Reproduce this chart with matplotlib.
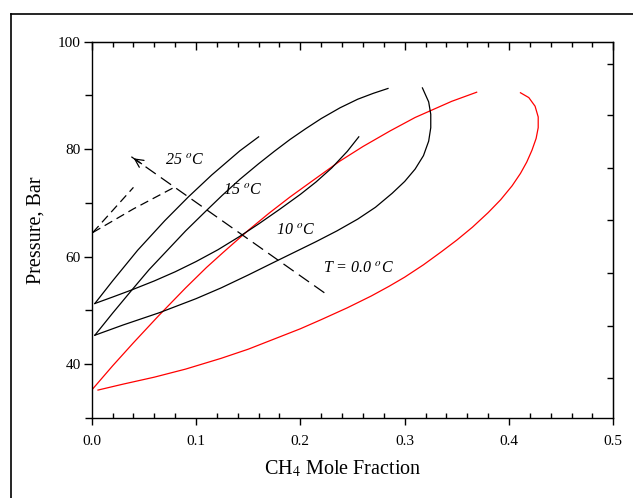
import matplotlib
matplotlib.use("Agg")
import matplotlib.pyplot as plt
from matplotlib.lines import Line2D
from matplotlib.ticker import MultipleLocator, NullFormatter, FormatStrFormatter

plt.rcParams['font.family'] = ['Liberation Serif', 'DejaVu Serif']
plt.rcParams['mathtext.fontset'] = 'stix'

# 0 C (red loop)
x0_up = [0.0, 0.02, 0.04, 0.064, 0.09, 0.11, 0.126, 0.15, 0.17, 0.19, 0.21, 0.238,
         0.26, 0.286, 0.31, 0.324, 0.345, 0.369]
p0_up = [35.2, 39.7, 44.0, 49.0, 54.2, 58.0, 60.8, 64.9, 68.1, 71.1, 73.9, 77.8,
         80.5, 83.4, 85.9, 87.1, 88.9, 90.6]
x0_lo = [0.006, 0.03, 0.06, 0.09, 0.124, 0.15, 0.175, 0.20, 0.22, 0.245, 0.268, 0.285,
         0.30, 0.318, 0.335, 0.35, 0.365, 0.38, 0.392, 0.403, 0.411, 0.417, 0.422,
         0.426, 0.428, 0.428, 0.425, 0.419, 0.411]
p0_lo = [35.2, 36.3, 37.6, 39.1, 41.1, 42.8, 44.7, 46.6, 48.3, 50.5, 52.7, 54.5,
         56.2, 58.5, 60.9, 63.1, 65.5, 68.2, 70.6, 73.2, 75.5, 77.6, 79.8,
         82.0, 84.0, 86.0, 88.0, 89.6, 90.5]

# 10 C
x10_up = [0.003, 0.02, 0.038, 0.055, 0.073, 0.09, 0.11, 0.125, 0.142, 0.16, 0.175,
          0.19, 0.205, 0.22, 0.238, 0.255, 0.27, 0.284]
p10_up = [45.4, 49.5, 53.7, 57.6, 61.3, 64.8, 68.6, 71.4, 74.4, 77.3, 79.6,
          81.8, 83.8, 85.7, 87.7, 89.3, 90.4, 91.3]
x10_lo = [0.003, 0.03, 0.065, 0.10, 0.124, 0.15, 0.175, 0.195, 0.215, 0.235, 0.255,
          0.272, 0.288, 0.30, 0.31, 0.318, 0.323, 0.325, 0.325, 0.323, 0.317]
p10_lo = [45.4, 47.3, 49.6, 52.2, 54.2, 56.6, 59.0, 60.9, 62.8, 64.8, 67.0,
          69.2, 71.8, 74.0, 76.3, 78.8, 81.5, 84.0, 86.5, 88.8, 91.4]

# 15 C
x15_up = [0.003, 0.02, 0.044, 0.07, 0.0925, 0.115, 0.142, 0.16]
p15_up = [51.3, 55.5, 61.2, 66.7, 71.1, 75.2, 79.7, 82.3]
x15_lo = [0.003, 0.02, 0.038, 0.06, 0.08, 0.10, 0.121, 0.142, 0.16, 0.18, 0.20,
          0.215, 0.23, 0.245, 0.256]
p15_lo = [51.3, 52.5, 53.8, 55.5, 57.2, 59.1, 61.3, 63.8, 66.1, 68.8, 71.6,
          73.9, 76.5, 79.6, 82.3]

# 25 C (dashed)
x25_up = [0.001, 0.040]
p25_up = [64.5, 72.9]
x25_lo = [0.001, 0.04, 0.08]
p25_lo = [64.5, 68.9, 73.0]

# direction arrow
arrow_x = [0.223, 0.038]
arrow_p = [53.3, 78.6]

labels = ['25 $^o$C', '15 $^o$C', '10 $^o$C', 'T = 0.0 $^o$C']
label_x = [0.070, 0.126, 0.177, 0.222]
label_p = [78.0, 72.4, 65.0, 57.9]

fig = plt.figure(figsize=(6.33, 4.98), dpi=100)
ax = fig.add_axes([0.1449, 0.1606, 0.824, 0.7557])

lw = 0.9
ax.plot(x0_up, p0_up, color='red', lw=lw)
ax.plot(x0_lo, p0_lo, color='red', lw=lw)
for xs, ps in [(x10_up, p10_up), (x10_lo, p10_lo), (x15_up, p15_up), (x15_lo, p15_lo)]:
    ax.plot(xs, ps, color='black', lw=lw)
for xs, ps in [(x25_up, p25_up), (x25_lo, p25_lo)]:
    ax.plot(xs, ps, color='black', lw=lw, dashes=(7, 4))

ax.plot(arrow_x, arrow_p, color='black', lw=lw, dashes=(10, 5))
ax.annotate('', xy=(arrow_x[1], arrow_p[1]), xytext=(arrow_x[1] + 0.012, arrow_p[1] - 1.6),
            arrowprops=dict(arrowstyle='->', color='black', lw=lw, mutation_scale=15))

for t, lx, lp in zip(labels, label_x, label_p):
    ax.text(lx, lp, t, fontsize=11.5, style='italic', ha='left', va='center')

ax.set_xlim(0, 0.5)
ax.set_ylim(30, 100)
ax.xaxis.set_major_locator(MultipleLocator(0.1))
ax.xaxis.set_minor_locator(MultipleLocator(0.02))
ax.xaxis.set_major_formatter(FormatStrFormatter('%.1f'))
ax.yaxis.set_minor_locator(MultipleLocator(10))
ax.set_yticks([40, 60, 80, 100])

ax.tick_params(axis='x', which='major', direction='out', length=5, width=1, labelsize=11, pad=7)
ax.tick_params(axis='x', which='minor', direction='in', length=3.5, width=1)
ax.tick_params(axis='y', which='major', direction='out', length=6, width=1, labelsize=11, pad=2)
ax.tick_params(axis='y', which='minor', direction='out', length=5, width=1)
for s in ax.spines.values():
    s.set_linewidth(1.0)

top = ax.secondary_xaxis('top')
top.xaxis.set_major_locator(MultipleLocator(0.1))
top.xaxis.set_minor_locator(MultipleLocator(0.02))
top.xaxis.set_major_formatter(NullFormatter())
top.tick_params(which='major', direction='in', length=6, width=1)
top.tick_params(which='minor', direction='in', length=3.5, width=1)

right_ticks = [37.4, 47.2, 57.0, 66.8, 76.5, 86.3, 95.8]
right = ax.secondary_yaxis('right')
right.set_yticks(right_ticks)
right.yaxis.set_major_formatter(NullFormatter())
right.tick_params(which='major', direction='in', length=4, width=1)

ax.set_xlabel('CH$_4$ Mole Fraction', fontsize=14.5)
ax.set_ylabel('Pressure, Bar', fontsize=14.5)
ax.xaxis.set_label_coords(0.482, -0.108)
ax.yaxis.set_label_coords(-0.088, 0.5)

fig.add_artist(Line2D([0.0166, 1.0], [0.9719, 0.9719], color='black', lw=1.2))
fig.add_artist(Line2D([0.0166, 0.0166], [0.0, 0.9719], color='black', lw=1.2))

fig.savefig('out.png', dpi=100)
